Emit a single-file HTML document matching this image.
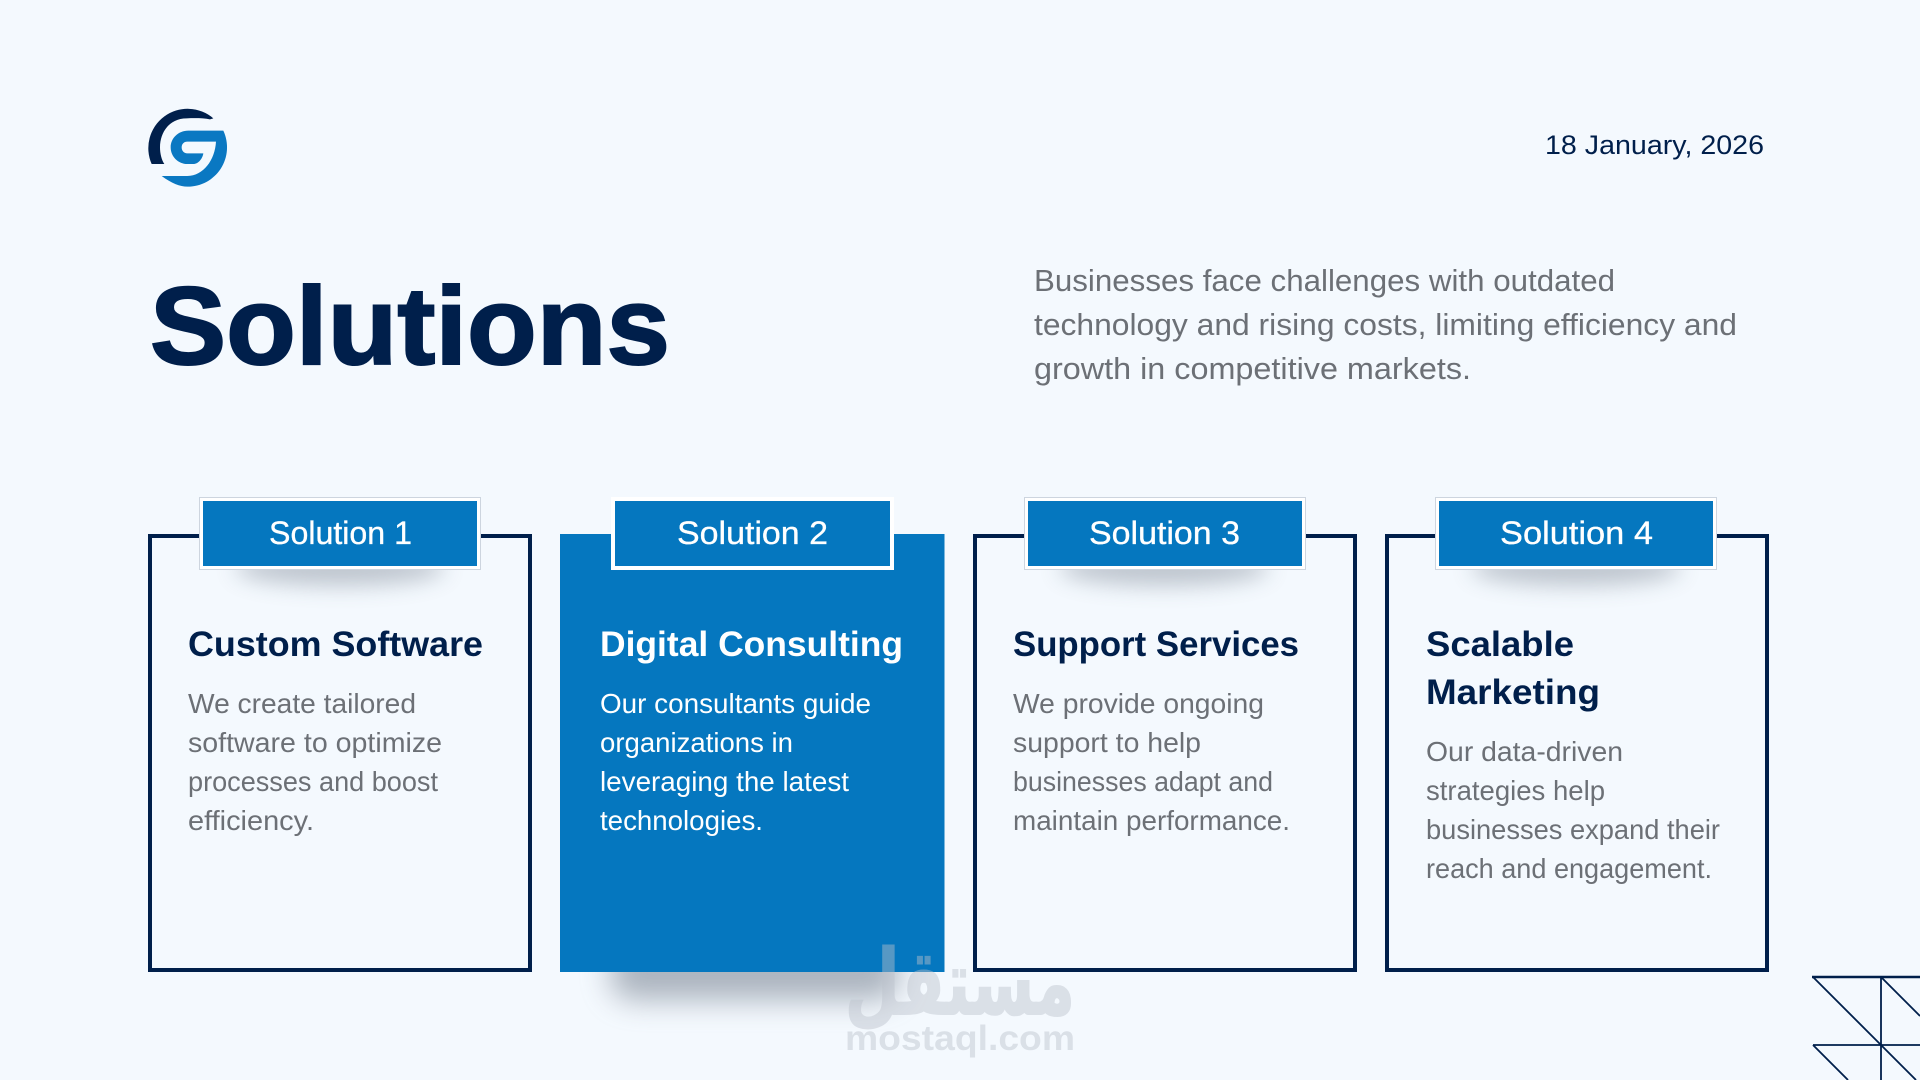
<!DOCTYPE html>
<html><head><meta charset="utf-8"><style>
html,body{margin:0;padding:0;background:#f4f9fe}
svg{display:block}
.b{font-family:"Liberation Sans",sans-serif;font-size:28px;fill:#6c7076}
.h{font-family:"Liberation Sans",sans-serif;font-size:35px;font-weight:700;fill:#001f4b}
.t{font-family:"Liberation Sans",sans-serif;font-size:32px;fill:#fff;stroke:#fff;stroke-width:.3px;text-anchor:start}
.w{fill:#fff}
</style></head><body>
<svg width="1920" height="1080" viewBox="0 0 1920 1080" xmlns="http://www.w3.org/2000/svg">
<defs>
<filter id="s1" x="-30%" y="-100%" width="160%" height="300%"><feGaussianBlur stdDeviation="11"/></filter>
<filter id="s2" x="-30%" y="-100%" width="160%" height="300%"><feGaussianBlur stdDeviation="15"/></filter>
</defs>
<rect width="1920" height="1080" fill="#f4f9fe"/>

<g transform="translate(130,90) scale(0.3333)">
<path fill="#001f4b" d="M65 222A118 118 0 0 1 250 85L240 88C220 84 195 84 170 85C120 85 90 125 90 172C90 190 95 210 103 222Z"/>
<path fill="#0a78c2" d="M95 258C125 280 150 290 172 290A118 118 0 0 0 280 122L175 122C145 122 122 145 122 172C122 200 145 222 172 222L190 222C205 222 218 205 220 190L172 190C162 190 155 182 155 172C155 162 162 155 172 155L258 155C255 210 220 258 172 258Z"/>
</g>

<text x="1545" y="154" font-family="Liberation Sans" font-size="27" fill="#001f4b" textLength="219" lengthAdjust="spacingAndGlyphs">18 January, 2026</text>
<text x="150" y="364" font-family="Liberation Sans" font-weight="700" font-size="110" fill="#001f4b" stroke="#001f4b" stroke-width="2" textLength="520" lengthAdjust="spacingAndGlyphs">Solutions</text>

<g font-family="Liberation Sans" font-size="31" fill="#6c7076">
<text x="1034" y="291" textLength="581" lengthAdjust="spacingAndGlyphs">Businesses face challenges with outdated</text>
<text x="1034" y="335" textLength="703" lengthAdjust="spacingAndGlyphs">technology and rising costs, limiting efficiency and</text>
<text x="1034" y="379" textLength="437" lengthAdjust="spacingAndGlyphs">growth in competitive markets.</text>
</g>

<ellipse cx="340" cy="568" rx="105" ry="18" fill="#7d8795" opacity=".45" filter="url(#s1)"/>
<ellipse cx="1164" cy="568" rx="105" ry="18" fill="#7d8795" opacity=".45" filter="url(#s1)"/>
<ellipse cx="1576" cy="568" rx="105" ry="18" fill="#7d8795" opacity=".45" filter="url(#s1)"/>
<rect x="610" y="945" width="290" height="55" rx="24" fill="#6f7a8a" opacity=".55" filter="url(#s2)"/>

<rect x="150" y="536" width="380" height="434" fill="none" stroke="#001f4b" stroke-width="4"/>
<rect x="560" y="534" width="384.500" height="438" fill="#0577bf"/>
<rect x="975" y="536" width="380" height="434" fill="none" stroke="#001f4b" stroke-width="4"/>
<rect x="1387" y="536" width="380" height="434" fill="none" stroke="#001f4b" stroke-width="4"/>

<g fill="#0577bf">
<rect x="201" y="499" width="278" height="69" stroke="#fff" stroke-width="4"/>
<rect x="613" y="499" width="279" height="69" stroke="#fff" stroke-width="4"/>
<rect x="1026" y="499" width="278" height="69" stroke="#fff" stroke-width="4"/>
<rect x="1437" y="499" width="278" height="69" stroke="#fff" stroke-width="4"/>
</g>
<g fill="none" stroke="#cdd5df" stroke-width="1">
<rect x="199.500" y="497.500" width="281" height="72"/>
<rect x="1024.500" y="497.500" width="281" height="72"/>
<rect x="1435.500" y="497.500" width="281" height="72"/>
</g>

<text class="t" x="269" y="544" textLength="143" lengthAdjust="spacingAndGlyphs">Solution 1</text>
<text class="t" x="677" y="544" textLength="151" lengthAdjust="spacingAndGlyphs">Solution 2</text>
<text class="t" x="1089" y="544" textLength="151" lengthAdjust="spacingAndGlyphs">Solution 3</text>
<text class="t" x="1500" y="544" textLength="153" lengthAdjust="spacingAndGlyphs">Solution 4</text>

<text class="h" x="188" y="656" textLength="295" lengthAdjust="spacingAndGlyphs">Custom Software</text>
<text class="h w" x="600" y="656" textLength="303" lengthAdjust="spacingAndGlyphs">Digital Consulting</text>
<text class="h" x="1013" y="656" textLength="286" lengthAdjust="spacingAndGlyphs">Support Services</text>
<text class="h" x="1426" y="656" textLength="148" lengthAdjust="spacingAndGlyphs">Scalable</text>
<text class="h" x="1426" y="704" textLength="174" lengthAdjust="spacingAndGlyphs">Marketing</text>

<text class="b" x="188" y="713" textLength="228" lengthAdjust="spacingAndGlyphs">We create tailored</text>
<text class="b" x="188" y="752" textLength="254" lengthAdjust="spacingAndGlyphs">software to optimize</text>
<text class="b" x="188" y="791" textLength="250" lengthAdjust="spacingAndGlyphs">processes and boost</text>
<text class="b" x="188" y="830" textLength="126" lengthAdjust="spacingAndGlyphs">efficiency.</text>

<text class="b w" x="600" y="713" textLength="271" lengthAdjust="spacingAndGlyphs">Our consultants guide</text>
<text class="b w" x="600" y="752" textLength="193" lengthAdjust="spacingAndGlyphs">organizations in</text>
<text class="b w" x="600" y="791" textLength="249" lengthAdjust="spacingAndGlyphs">leveraging the latest</text>
<text class="b w" x="600" y="830" textLength="163" lengthAdjust="spacingAndGlyphs">technologies.</text>

<text class="b" x="1013" y="713" textLength="251" lengthAdjust="spacingAndGlyphs">We provide ongoing</text>
<text class="b" x="1013" y="752" textLength="188" lengthAdjust="spacingAndGlyphs">support to help</text>
<text class="b" x="1013" y="791" textLength="260" lengthAdjust="spacingAndGlyphs">businesses adapt and</text>
<text class="b" x="1013" y="830" textLength="277" lengthAdjust="spacingAndGlyphs">maintain performance.</text>

<text class="b" x="1426" y="761" textLength="197" lengthAdjust="spacingAndGlyphs">Our data-driven</text>
<text class="b" x="1426" y="800" textLength="179" lengthAdjust="spacingAndGlyphs">strategies help</text>
<text class="b" x="1426" y="839" textLength="294" lengthAdjust="spacingAndGlyphs">businesses expand their</text>
<text class="b" x="1426" y="878" textLength="286" lengthAdjust="spacingAndGlyphs">reach and engagement.</text>

<g fill="#bcc2cc" opacity=".45">
<text x="845" y="1014" font-family="DejaVu Sans" font-weight="700" font-size="90" stroke="#bcc2cc" stroke-width="2" textLength="230" lengthAdjust="spacingAndGlyphs">مستقل</text>
<text x="845" y="1050" font-family="Liberation Sans" font-weight="700" font-size="35" textLength="230" lengthAdjust="spacingAndGlyphs">mostaql.com</text>
</g>

<g fill="none" stroke="#001f4b">
<path stroke-width="2.500" d="M1812 977H1920"/>
<path stroke-width="1.800" d="M1813 1045H1920M1881 977V1080M1813 977L1916 1080M1881 977L1920 1016M1813 1045L1848 1080"/>
</g>
</svg>
</body></html>
